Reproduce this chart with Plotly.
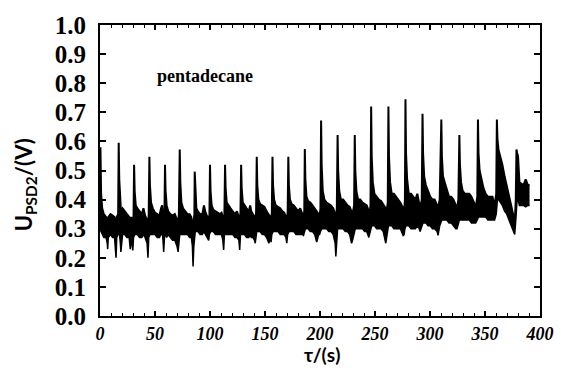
import plotly.graph_objects as go

# PSD2 voltage record (pentadecane): upper and lower envelope of the noisy trace
t_env = [
    0.0, 0.4, 1.0, 2.0, 3.5, 5.5, 6.6, 7.0, 7.5, 9.5, 11.5, 13.2, 14.2, 14.6, 15.2,
    16.5, 17.0, 17.5, 18.5, 19.0, 20.5, 22.5, 24.5, 26.5, 27.5, 28.3, 29.3, 29.8, 30.5,
    31.0, 31.5, 32.5, 34.0, 36.0, 38.0, 39.5, 41.0, 42.8, 43.6, 44.3,
    44.9, 45.4, 46.4, 48.0, 50.0, 52.0, 54.0, 55.5, 56.5, 57.3, 57.9, 58.6,
    59.1, 59.6, 60.6, 62.0, 64.0, 66.0, 68.0, 70.0, 71.0, 71.7,
    72.5, 73.0, 74.0, 75.5, 77.5, 79.5, 81.5, 83.0, 84.0, 84.6, 85.3, 85.8,
    86.1, 86.6, 87.6, 89.0, 91.0, 93.0, 94.5, 96.0, 97.8, 98.8, 99.5,
    100.0, 100.5, 101.5, 103.0, 105.0, 107.0, 109.0, 110.5, 111.7, 112.4, 113.1,
    113.7, 114.2, 115.2, 116.7, 118.7, 120.7, 122.7, 124.5, 126.3, 127.0, 127.7,
    128.3, 128.8, 129.8, 131.3, 133.3, 135.3, 136.5, 137.5, 139.0, 140.5, 141.1, 141.9,
    142.5, 143.0, 144.0, 145.5, 147.5, 149.5, 151.5, 153.5, 154.8, 155.5, 156.2,
    156.8, 157.3, 158.3, 159.8, 161.8, 163.8, 165.8, 167.5, 169.0, 169.8, 170.6,
    171.2, 171.7, 172.7, 174.2, 176.2, 178.2, 180.2, 182.0, 184.0, 185.0, 185.7,
    186.2, 186.7, 187.7, 189.2, 191.2, 193.2, 195.2, 197.0, 198.8, 199.6, 200.4,
    201.0, 201.5, 202.5, 204.0, 206.0, 208.0, 210.0, 212.0, 213.8, 214.4, 215.3,
    216.0, 216.5, 217.5, 219.0, 221.0, 223.0, 225.0, 227.0, 228.7, 229.6, 231.0,
    231.6, 232.1, 233.1, 234.6, 236.6, 238.6, 240.6, 242.5, 244.4, 245.1, 245.9,
    246.5, 247.0, 248.0, 249.5, 251.5, 253.5, 255.5, 257.5, 259.8, 260.6, 261.6,
    262.2, 262.7, 263.7, 265.2, 267.2, 269.2, 271.2, 273.0, 275.6, 276.5, 277.2,
    277.7, 278.2, 279.2, 280.7, 282.7, 284.7, 286.7, 288.5, 290.2, 291.0, 292.5,
    293.2, 293.7, 294.7, 296.2, 298.2, 300.2, 302.2, 304.2, 306.5, 307.3, 308.8,
    310.3, 310.8, 311.8, 313.3, 315.3, 317.3, 319.3, 321.3, 323.5, 324.6, 325.8,
    326.7, 327.2, 328.2, 329.7, 331.7, 333.7, 335.7, 337.7, 340.0, 341.5, 343.0,
    343.6, 344.1, 345.1, 346.6, 348.6, 350.6, 352.6, 354.6, 356.8, 358.7, 360.2,
    360.8, 361.3, 362.3, 363.8, 365.8, 367.8, 369.8, 371.8, 373.8, 375.5, 377.0, 378.0,
    378.6, 379.2, 380.0, 380.6, 381.3, 383.0, 385.0, 387.0, 389.0, 390.5,
]
upper_env = [
    0.33, 0.58, 0.42, 0.37, 0.35, 0.34, 0.33, 0.32, 0.34, 0.35, 0.345, 0.34, 0.32, 0.31, 0.34,
    0.35, 0.595, 0.47, 0.40, 0.36, 0.37, 0.36, 0.35, 0.34, 0.33, 0.34, 0.33, 0.32, 0.345,
    0.52, 0.43, 0.38, 0.37, 0.36, 0.35, 0.37, 0.345, 0.33, 0.31, 0.35,
    0.547, 0.45, 0.39, 0.37, 0.355, 0.35, 0.345, 0.37, 0.38, 0.34, 0.32, 0.35,
    0.52, 0.43, 0.38, 0.36, 0.35, 0.345, 0.35, 0.33, 0.32, 0.35,
    0.572, 0.46, 0.39, 0.37, 0.36, 0.35, 0.35, 0.34, 0.32, 0.30, 0.33, 0.35,
    0.496, 0.42, 0.37, 0.36, 0.35, 0.35, 0.38, 0.355, 0.34, 0.33, 0.35,
    0.52, 0.43, 0.38, 0.365, 0.36, 0.355, 0.35, 0.355, 0.34, 0.32, 0.35,
    0.52, 0.44, 0.39, 0.38, 0.37, 0.36, 0.35, 0.36, 0.34, 0.32, 0.355,
    0.52, 0.44, 0.39, 0.38, 0.37, 0.36, 0.38, 0.36, 0.35, 0.34, 0.33, 0.355,
    0.547, 0.45, 0.40, 0.385, 0.38, 0.375, 0.36, 0.35, 0.34, 0.33, 0.355,
    0.547, 0.45, 0.40, 0.38, 0.375, 0.37, 0.36, 0.355, 0.34, 0.33, 0.355,
    0.547, 0.45, 0.40, 0.385, 0.38, 0.37, 0.36, 0.37, 0.35, 0.34, 0.36,
    0.574, 0.47, 0.41, 0.395, 0.39, 0.38, 0.37, 0.36, 0.35, 0.34, 0.37,
    0.672, 0.52, 0.43, 0.40, 0.39, 0.385, 0.38, 0.37, 0.35, 0.33, 0.37,
    0.622, 0.50, 0.43, 0.40, 0.40, 0.39, 0.38, 0.375, 0.36, 0.35, 0.38,
    0.622, 0.50, 0.43, 0.40, 0.40, 0.39, 0.385, 0.38, 0.36, 0.35, 0.38,
    0.72, 0.55, 0.46, 0.42, 0.41, 0.40, 0.395, 0.385, 0.37, 0.36, 0.39,
    0.72, 0.55, 0.46, 0.42, 0.42, 0.41, 0.40, 0.39, 0.37, 0.36, 0.40,
    0.745, 0.56, 0.47, 0.42, 0.42, 0.41, 0.40, 0.42, 0.39, 0.37, 0.40,
    0.695, 0.56, 0.48, 0.45, 0.43, 0.41, 0.40, 0.40, 0.38, 0.37, 0.40,
    0.675, 0.55, 0.48, 0.46, 0.43, 0.41, 0.41, 0.40, 0.38, 0.37, 0.40,
    0.622, 0.52, 0.46, 0.43, 0.42, 0.42, 0.42, 0.41, 0.39, 0.37, 0.41,
    0.675, 0.56, 0.50, 0.47, 0.44, 0.42, 0.41, 0.41, 0.41, 0.38, 0.42,
    0.675, 0.61, 0.57, 0.55, 0.52, 0.48, 0.45, 0.42, 0.38, 0.35, 0.32, 0.40,
    0.572, 0.56, 0.55, 0.50, 0.46, 0.455, 0.45, 0.47, 0.45, 0.45,
]
lower_env = [
    0.29, 0.30, 0.29, 0.28, 0.27, 0.27, 0.25, 0.23, 0.27, 0.28, 0.27, 0.27, 0.22, 0.20, 0.27,
    0.28, 0.29, 0.29, 0.25, 0.22, 0.28, 0.28, 0.27, 0.27, 0.23, 0.27, 0.24, 0.225, 0.27,
    0.28, 0.28, 0.28, 0.28, 0.27, 0.27, 0.28, 0.27, 0.25, 0.20, 0.27,
    0.28, 0.28, 0.28, 0.28, 0.28, 0.27, 0.27, 0.28, 0.29, 0.26, 0.22, 0.27,
    0.28, 0.28, 0.27, 0.28, 0.27, 0.26, 0.26, 0.24, 0.22, 0.27,
    0.28, 0.28, 0.28, 0.28, 0.28, 0.28, 0.27, 0.27, 0.24, 0.17, 0.24, 0.28,
    0.29, 0.29, 0.29, 0.29, 0.28, 0.28, 0.29, 0.28, 0.27, 0.26, 0.28,
    0.29, 0.29, 0.29, 0.29, 0.28, 0.28, 0.28, 0.28, 0.26, 0.227, 0.28,
    0.28, 0.28, 0.28, 0.28, 0.28, 0.28, 0.27, 0.27, 0.26, 0.227, 0.28,
    0.28, 0.28, 0.28, 0.28, 0.27, 0.27, 0.28, 0.27, 0.27, 0.26, 0.25, 0.28,
    0.29, 0.29, 0.29, 0.29, 0.28, 0.28, 0.27, 0.25, 0.27, 0.254, 0.28,
    0.29, 0.29, 0.29, 0.29, 0.29, 0.28, 0.28, 0.28, 0.27, 0.25, 0.28,
    0.29, 0.29, 0.29, 0.29, 0.29, 0.28, 0.28, 0.28, 0.28, 0.277, 0.29,
    0.30, 0.30, 0.30, 0.30, 0.29, 0.29, 0.28, 0.254, 0.28, 0.28, 0.29,
    0.30, 0.30, 0.30, 0.30, 0.30, 0.29, 0.29, 0.28, 0.25, 0.205, 0.29,
    0.30, 0.30, 0.30, 0.30, 0.30, 0.29, 0.29, 0.28, 0.25, 0.26, 0.29,
    0.30, 0.30, 0.30, 0.30, 0.30, 0.30, 0.29, 0.29, 0.27, 0.28, 0.30,
    0.31, 0.31, 0.31, 0.31, 0.30, 0.30, 0.30, 0.29, 0.25, 0.27, 0.30,
    0.31, 0.31, 0.31, 0.31, 0.30, 0.30, 0.30, 0.30, 0.277, 0.28, 0.30,
    0.31, 0.31, 0.31, 0.31, 0.30, 0.30, 0.30, 0.31, 0.30, 0.29, 0.31,
    0.32, 0.32, 0.32, 0.32, 0.31, 0.31, 0.30, 0.30, 0.29, 0.277, 0.31,
    0.33, 0.33, 0.33, 0.33, 0.33, 0.32, 0.32, 0.31, 0.30, 0.30, 0.32,
    0.33, 0.33, 0.33, 0.33, 0.33, 0.33, 0.33, 0.32, 0.32, 0.32, 0.33,
    0.34, 0.34, 0.34, 0.34, 0.34, 0.34, 0.33, 0.33, 0.33, 0.33, 0.35,
    0.38, 0.40, 0.40, 0.39, 0.38, 0.36, 0.35, 0.33, 0.31, 0.30, 0.28, 0.33,
    0.38, 0.40, 0.40, 0.39, 0.38, 0.38, 0.38, 0.375, 0.38, 0.38,
]

x_ticks = [0, 50, 100, 150, 200, 250, 300, 350, 400]
y_ticks = [0.0, 0.1, 0.2, 0.3, 0.4, 0.5, 0.6, 0.7, 0.8, 0.9, 1.0]
sample_label = "pentadecane"

fig = go.Figure()
fig.add_trace(go.Scatter(
    x=t_env, y=lower_env, mode="lines",
    line=dict(color="black", width=1.5), hoverinfo="skip", showlegend=False,
))
fig.add_trace(go.Scatter(
    x=t_env, y=upper_env, mode="lines", fill="tonexty", fillcolor="black",
    line=dict(color="black", width=2), showlegend=False,
))

serif = "Liberation Serif"
fig.update_xaxes(
    range=[0, 400], tickvals=x_ticks, ticktext=[f"<b><i>{v}</i></b>" for v in x_ticks],
    ticks="inside", ticklen=5, tickwidth=1.5, tickcolor="black",
    minor=dict(dtick=10, ticks="inside", ticklen=3, tickcolor="black", tickwidth=1),
    showline=True, linecolor="black", linewidth=2, mirror="ticks",
    showgrid=False, zeroline=False,
    tickfont=dict(family=serif, size=18, color="black"),
    ticklabelstandoff=0,
)
fig.update_yaxes(
    range=[0, 1.0], tickvals=y_ticks, ticktext=[f"<b>{v:.1f}</b>" for v in y_ticks],
    ticks="inside", ticklen=6, tickwidth=1.5, tickcolor="black",
    showline=True, linecolor="black", linewidth=2, mirror="ticks",
    showgrid=False, zeroline=False,
    tickfont=dict(family=serif, size=25, color="black"),
    ticklabelstandoff=7,
)

fig.add_annotation(
    x=50, y=0.826, xref="x", yref="y", xanchor="left", yanchor="middle",
    text=f"<b>{sample_label}</b>", showarrow=False,
    font=dict(family=serif, size=18, color="black"),
)
fig.add_annotation(
    x=-0.17, y=0.45, xref="paper", yref="paper", textangle=-90,
    xanchor="center", yanchor="middle", showarrow=False,
    text="<b>U<sub>PSD2</sub>/(V)</b>",
    font=dict(family="Lato", size=22, color="black"),
)
fig.add_annotation(
    x=0.5056, y=-0.132, xref="paper", yref="paper",
    xanchor="center", yanchor="middle", showarrow=False,
    text="<b>τ/(s)</b>",
    font=dict(family="Lato", size=19, color="black"),
)

fig.update_layout(
    width=566, height=379,
    margin=dict(l=100, r=17, t=17, b=63),
    paper_bgcolor="white", plot_bgcolor="white",
)

fig.write_html("out.html")
